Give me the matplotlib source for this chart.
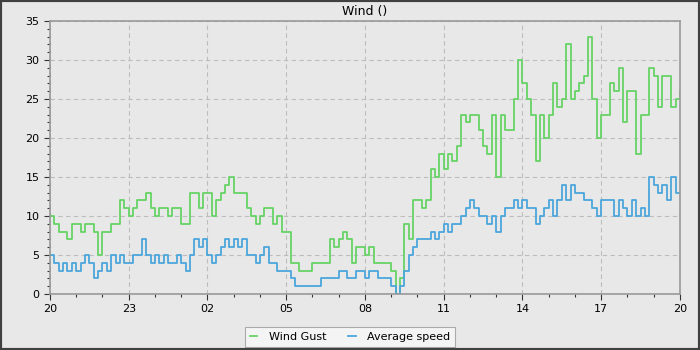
"""Wind gust and average speed over 24 hours, step plot."""

import matplotlib

matplotlib.use("Agg")
import matplotlib.pyplot as plt
import numpy as np
from matplotlib.ticker import MultipleLocator

# one sample every 10 minutes, starting at 20:00
gust = [
    10, 9, 8, 8, 7, 9, 9, 8, 9, 9,
    8, 5, 8, 8, 9, 9, 12, 11, 10, 11,
    12, 12, 13, 11, 10, 11, 11, 10, 11, 11,
    9, 9, 13, 13, 11, 13, 13, 10, 12, 13,
    14, 15, 13, 13, 13, 11, 10, 9, 10, 11,
    11, 9, 10, 8, 8, 4, 4, 3, 3, 3,
    4, 4, 4, 4, 7, 6, 7, 8, 7, 4,
    6, 6, 5, 6, 4, 4, 4, 4, 3, 0,
    2, 9, 7, 12, 12, 11, 12, 16, 15, 18,
    16, 18, 17, 19, 23, 22, 23, 23, 21, 19,
    18, 23, 15, 23, 21, 21, 25, 30, 27, 25,
    23, 17, 23, 20, 23, 27, 24, 25, 32, 25,
    26, 27, 28, 33, 25, 20, 23, 23, 27, 26,
    29, 22, 26, 26, 18, 23, 23, 29, 28, 24,
    28, 28, 24, 25, 26,
]
avg_speed = [
    5, 4, 3, 4, 3, 4, 3, 4, 5, 4,
    2, 3, 4, 3, 5, 4, 5, 4, 4, 5,
    5, 7, 5, 4, 5, 4, 5, 4, 4, 5,
    4, 3, 5, 7, 6, 7, 5, 4, 5, 6,
    7, 6, 7, 6, 7, 5, 5, 4, 5, 6,
    4, 4, 3, 3, 3, 2, 1, 1, 1, 1,
    1, 1, 2, 2, 2, 2, 3, 3, 2, 2,
    3, 3, 2, 3, 3, 2, 2, 2, 1, 0,
    1, 3, 5, 6, 7, 7, 7, 8, 7, 8,
    9, 8, 9, 9, 10, 11, 12, 11, 10, 10,
    9, 10, 8, 10, 11, 11, 12, 11, 12, 11,
    11, 9, 10, 11, 12, 10, 12, 14, 12, 14,
    13, 13, 12, 12, 11, 10, 12, 12, 12, 10,
    12, 11, 10, 12, 10, 11, 10, 15, 14, 13,
    14, 12, 15, 13, 13,
]
hour_labels = ["20", "23", "02", "05", "08", "11", "14", "17", "20"]

BG = "#e8e8e8"

hours = np.arange(len(gust)) / 6.0

fig = plt.figure(figsize=(7, 3.5), dpi=100, facecolor=BG)
fig.patches.append(
    plt.Rectangle((0, 0), 1, 1, transform=fig.transFigure, fill=False,
                  edgecolor="#404040", linewidth=3, zorder=10)
)
ax = fig.add_axes([0.0714, 0.16, 0.9, 0.78], facecolor=BG)

ax.plot(hours, gust, drawstyle="steps-post", color="#66d366", lw=1.3, label="Wind Gust")
ax.plot(hours, avg_speed, drawstyle="steps-post", color="#4ba6db", lw=1.3, label="Average speed")

ax.set_xlim(0, 24)
ax.set_ylim(0, 35)
ax.set_xticks(np.arange(0, 25, 3))
ax.set_xticklabels(hour_labels)
ax.xaxis.set_minor_locator(MultipleLocator(1))
ax.yaxis.set_major_locator(MultipleLocator(5))
ax.yaxis.set_minor_locator(MultipleLocator(1))
ax.tick_params(which="major", length=4, width=0.8, labelsize=8, color="#333333")
ax.tick_params(which="minor", length=2.5, width=0.8, color="#333333")
ax.grid(which="major", color="#bdbdbd", linestyle=(0, (4, 3)), linewidth=0.8)
for side in ax.spines.values():
    side.set_color("#999999")
    side.set_linewidth(1.2)

ax.set_title("Wind ()", fontsize=9, pad=4)

leg = fig.legend(loc="lower center", bbox_to_anchor=(0.5, -0.008), ncol=2, fontsize=8,
                 frameon=True, fancybox=False, edgecolor="#999999", handlelength=0.7,
                 borderpad=0.45, columnspacing=2.0, handletextpad=1.0)
leg.get_frame().set_facecolor("#f8f8f8")
leg.get_frame().set_linewidth(0.8)

fig.savefig("out.png", dpi=100, facecolor=BG)
